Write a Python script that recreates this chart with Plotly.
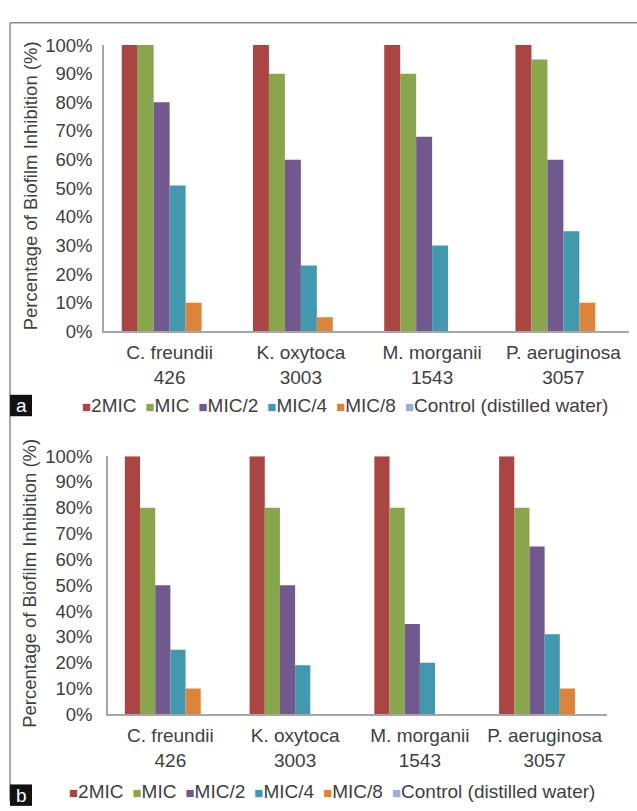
import plotly.graph_objects as go

W, H = 637, 811

categories = ["C. freundii<br>426", "K. oxytoca<br>3003", "M. morganii<br>1543", "P. aeruginosa<br>3057"]
series_names = ["2MIC", "MIC", "MIC/2", "MIC/4", "MIC/8", "Control (distilled water)"]
series_colors = ["#AA4543", "#8AA64C", "#71598F", "#4198AF", "#DD843B", "#95B2D6"]

# Panel a: inhibition (%) per strain
a_2mic = [100, 100, 100, 100]
a_mic = [100, 90, 90, 95]
a_mic2 = [80, 60, 68, 60]
a_mic4 = [51, 23, 30, 35]
a_mic8 = [10, 5, 0, 10]
a_control = [0, 0, 0, 0]

# Panel b: inhibition (%) per strain
b_2mic = [100, 100, 100, 100]
b_mic = [80, 80, 80, 80]
b_mic2 = [50, 50, 35, 65]
b_mic4 = [25, 19, 20, 31]
b_mic8 = [10, 0, 0, 10]
b_control = [0, 0, 0, 0]

y_ticks = list(range(0, 101, 10))
y_title = "Percentage of Biofilm Inhibition (%)"

FONT = "Liberation Sans, Arial, sans-serif"
TXT = "#404040"
AXIS = "#A6A6A6"


def px(x):
    return x / W


def py(y):
    return 1 - y / H


fig = go.Figure()

panel_a = [a_2mic, a_mic, a_mic2, a_mic4, a_mic8, a_control]
panel_b = [b_2mic, b_mic, b_mic2, b_mic4, b_mic8, b_control]

for vals, name, col in zip(panel_a, series_names, series_colors):
    fig.add_trace(go.Bar(x=categories, y=vals, name=name, marker_color=col,
                         marker_line_width=0, xaxis="x", yaxis="y", showlegend=False))
for vals, name, col in zip(panel_b, series_names, series_colors):
    fig.add_trace(go.Bar(x=categories, y=vals, name=name, marker_color=col,
                         marker_line_width=0, xaxis="x2", yaxis="y2", showlegend=False))

common_x = dict(showline=True, linecolor=AXIS, linewidth=1.5, showgrid=False, ticks="",
                zeroline=False, ticklabelstandoff=3,
                tickfont=dict(family=FONT, size=19, color=TXT))
common_y = dict(showline=True, linecolor=AXIS, linewidth=1.5, showgrid=False, ticks="",
                zeroline=False, range=[0, 100], tickvals=y_ticks,
                ticktext=[f"{v}%" for v in y_ticks],
                tickfont=dict(family=FONT, size=18.5, color=TXT))

fig.update_layout(
    width=W, height=H,
    margin=dict(l=0, r=0, t=0, b=0),
    paper_bgcolor="white", plot_bgcolor="white",
    barmode="group", bargap=0.27, bargroupgap=0,
    showlegend=False,
    xaxis=dict(domain=[px(104), px(629)], anchor="y", **common_x),
    yaxis=dict(domain=[py(329), py(35)], anchor="x", ticklabelstandoff=6, **common_y),
    xaxis2=dict(domain=[px(108), px(607)], anchor="y2", **common_x),
    yaxis2=dict(domain=[py(722), py(457)], anchor="x2", ticklabelstandoff=10, **common_y),
)

# Outer frame (left and top edges)
fig.add_shape(type="line", xref="paper", yref="paper", x0=px(10), x1=1, y0=py(12), y1=py(12),
              line=dict(color="#8C8C8C", width=1.5))
fig.add_shape(type="line", xref="paper", yref="paper", x0=px(10), x1=px(10), y0=py(12), y1=0,
              line=dict(color="#8C8C8C", width=1.5))

# Axis titles
for yc in (180, 588):
    fig.add_annotation(xref="paper", yref="paper", x=px(30), y=py(yc), text=y_title,
                       textangle=-90, showarrow=False, xanchor="center", yanchor="middle",
                       font=dict(family=FONT, size=18.5, color=TXT))

# Legends built from the series names and colours
legend_text = " \u2009".join(
    f'<span style="color:{c};font-size:15px">■</span>{n}'
    for n, c in zip(series_names, series_colors)
)
for x0, yc in ((80, 405), (67, 801)):
    fig.add_annotation(xref="paper", yref="paper", x=px(x0), y=py(yc), text=legend_text,
                       showarrow=False, xanchor="left", yanchor="middle",
                       font=dict(family=FONT, size=19, color=TXT))

# Panel letters
for letter, y0, y1 in (("a", 394, 416), ("b", 794, 816)):
    fig.add_shape(type="rect", xref="paper", yref="paper", x0=px(10), x1=px(32),
                  y0=py(y1), y1=py(y0), fillcolor="#111111", line_width=0)
    fig.add_annotation(xref="paper", yref="paper", x=px(21), y=py((y0 + y1) / 2),
                       text=letter, showarrow=False, xanchor="center", yanchor="middle",
                       font=dict(family=FONT, size=19, color="white"))

fig.write_html("out.html")
